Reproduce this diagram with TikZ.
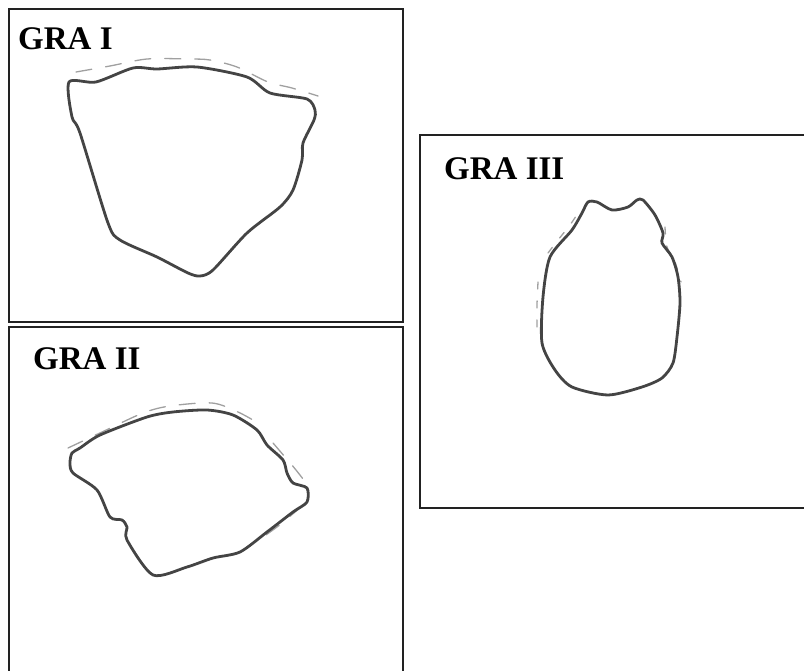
\documentclass[tikz,border=0pt]{standalone}
\usepackage{fontspec}
\setmainfont{Liberation Serif}
\usepackage{tikz}
\usetikzlibrary{positioning,calc}
\definecolor{Ink}{HTML}{222222}
\definecolor{Trace}{HTML}{444444}
\definecolor{Ghost}{HTML}{A0A0A0}
\tikzset{
  panel/.style={draw=Ink,line width=1.8pt},
  tag/.style={font=\fontsize{33}{33}\selectfont\bfseries,anchor=base west,inner sep=0pt,text=black},
  outline/.style={draw=Trace,line width=2.8pt,line join=round},
  ghost/.style={draw=Ghost,line width=1.3pt,dash pattern=on 16pt off 14pt,line cap=round},
}

\begin{document}
\begin{tikzpicture}[x=1pt,y=-1pt]
\useasboundingbox (0,0) rectangle (804,671);
% the three panels
\draw[panel] (9,9) rectangle (403,322);
\draw[panel] (9,327) rectangle (403,680);
\draw[panel] (420,135) rectangle (812,508);
\node[tag] (graI) at (18,50) {GRA I};
\node[tag] (graII) at (33,370) {GRA II};
\node[tag] (graIII) at (444,180) {GRA III};
% GRA I
\draw[ghost] plot[smooth] coordinates {(76,72) (110,66) (147,59) (188,59) (210,60) (237,67) (268,82) (292,88) (318,96)};
\draw[outline] plot[smooth cycle,tension=0.45] coordinates {
  (69,82) (96,82) (133,68) (157,69) (197,67) (247,77) (270,93) (307,99)
  (315,110) (314,120) (303,143) (302,160) (293,190) (280,207) (247,233)
  (213,270) (200,276) (188,273) (157,257) (120,240) (108,223) (80,133)
  (72,117)};
% GRA II
\draw[ghost] plot[smooth] coordinates {(68,448) (102,432) (143,413) (170,406) (212,403) (238,412) (258,423)};
\draw[ghost] plot[smooth] coordinates {(273,443) (285,457) (296,470) (310,488)};
\draw[ghost] plot[smooth] coordinates {(302,506) (288,518) (277,527) (263,537)};
\draw[outline] plot[smooth cycle,tension=0.45] coordinates {
  (70,463) (73,473) (97,490) (110,517) (122,520) (127,527) (127,540)
  (153,575) (187,567) (213,558) (240,552) (267,532) (293,512) (307,502)
  (307,488) (293,483) (287,473) (283,460) (267,445) (257,430) (233,415)
  (207,410) (173,412) (147,417) (100,435) (80,448) (72,453)};
% GRA III
\draw[ghost,dash pattern=on 7pt off 12pt] plot[smooth] coordinates {(538,282) (537,305) (537,327) (538,338)};
\draw[ghost,dash pattern=on 7pt off 12pt] plot[smooth] coordinates {(548,253) (558,240) (570,225) (580,210)};
\draw[ghost,dash pattern=on 7pt off 12pt] plot[smooth] coordinates {(665,227) (667,247) (675,262) (681,282)};
\draw[outline] plot[smooth cycle,tension=0.45] coordinates {
  (588,202) (597,202) (612,210) (628,207) (637,200) (643,200) (655,215)
  (663,233) (662,243) (672,257) (678,277) (680,303) (677,337) (673,363)
  (662,378) (642,387) (608,395) (572,387) (555,370) (542,343) (543,297)
  (550,257) (572,230) (582,213)};
\end{tikzpicture}
\end{document}
